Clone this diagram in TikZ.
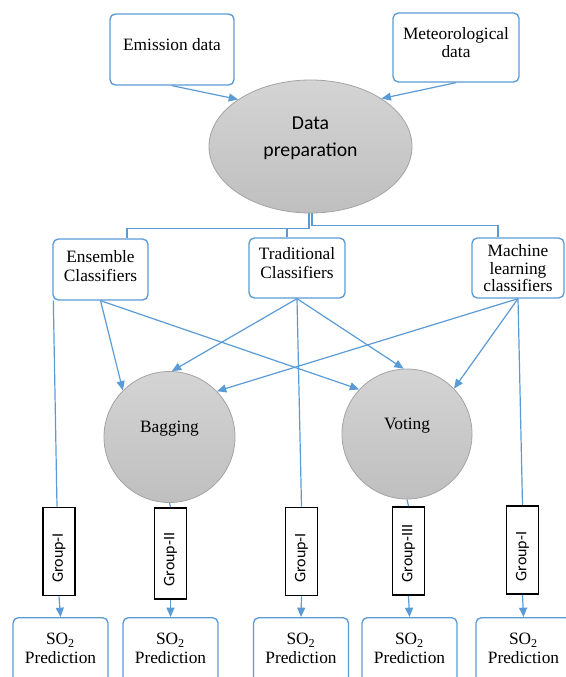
\documentclass[tikz,border=0pt]{standalone}
\usepackage{fontspec}
\setmainfont{Liberation Serif}
\newfontfamily\calibri{Carlito}
\usetikzlibrary{arrows.meta, calc, shapes.geometric}
\definecolor{lineblue}{HTML}{5B9BD5}
\definecolor{disctop}{HTML}{D4D4D4}
\definecolor{discbot}{HTML}{BFBFBF}
\definecolor{discedge}{HTML}{A3A3A3}

\tikzset{
    inbox/.style={draw=lineblue, line width=1pt, rounded corners=4pt, fill=white,
        align=center, inner sep=0pt, text depth=7pt,
        font=\fontsize{13}{14}\selectfont},
    outbox/.style={inbox, anchor=north, minimum width=71.25pt, minimum height=60pt,
        text depth=14pt},
    disc/.style={circle, draw=discedge, line width=0.6pt, top color=disctop,
        bottom color=discbot, inner sep=0pt, text depth=15pt,
        font=\fontsize{13}{14}\selectfont},
    grpbox/.style={draw=black, line width=1.3pt, fill=white, rotate=90,
        minimum height=24pt, text width=47pt, inner xsep=9.5pt, align=left,
        font=\calibri\fontsize{12}{13}\selectfont},
    link/.style={draw=lineblue, line width=0.9pt},
    flow/.style={link, -{Triangle[length=7pt,width=6pt]}},
}

\begin{document}
\begin{tikzpicture}[x=0.75pt, y=-0.75pt]
    \useasboundingbox (0,0) rectangle (566,677);
    \clip (0,0) rectangle (566,677);
    % inputs
    \node[inbox, minimum width=93pt, minimum height=53.25pt] (emis) at (172,49.5) {Emission data};
    \node[inbox, minimum width=94.5pt, minimum height=51.75pt, text depth=7.5pt] (met) at (456,47.5) {Meteorological\\data};
    \node[ellipse, draw=discedge, line width=0.6pt, top color=disctop, bottom color=discbot,
        minimum width=152.25pt, minimum height=99.75pt, inner sep=0pt, align=center,
        text depth=15pt, font=\calibri\fontsize{14.8}{20}\selectfont] (prep) at (310.5,146.5) {Data\\preparation};
    % classifiers
    \node[inbox, minimum width=71.25pt, minimum height=45.75pt, text depth=5pt] (ens) at (100.5,269.5) {Ensemble\\Classifiers};
    \node[inbox, minimum width=72pt, minimum height=45pt, text depth=7.5pt] (trad) at (297,268) {Traditional\\Classifiers};
    \node[inbox, minimum width=69pt, minimum height=45pt, text depth=0pt,
        font=\fontsize{13}{13.2}\selectfont] (mach) at (518,268) {Machine\\learning\\classifiers};
    % ensembles
    \node[disc, minimum size=98.25pt] (bag) at (169.5,437) {Bagging};
    \node[disc, minimum size=97.5pt] (vote) at (407,434) {Voting};
    % groups
    \node[grpbox] (grpA) at (59,551.5) {Group-I};
    \node[grpbox, text width=49.25pt] (grpB) at (170.5,553.5) {Group-II};
    \node[grpbox] (grpC) at (301.5,551.5) {Group-I};
    \node[grpbox] (grpD) at (408.5,551) {Group-III};
    \node[grpbox] (grpE) at (522.5,550) {Group-I};
    % predictions
    \node[outbox] (so1) at (60.5,617) {SO\textsubscript{2}\\Prediction};
    \node[outbox] (so2) at (170.5,617) {SO\textsubscript{2}\\Prediction};
    \node[outbox] (so3) at (301,617) {SO\textsubscript{2}\\Prediction};
    \node[outbox] (so4) at (409.5,617) {SO\textsubscript{2}\\Prediction};
    \node[outbox] (so5) at (523.5,617) {SO\textsubscript{2}\\Prediction};

    % data into preparation
    \draw[flow] (emis.south) -- (prep.147);
    \draw[flow] (met.south) -- (prep.34);
    % split to the classifiers
    \coordinate (busL) at ($(prep.south)+(-1.5,15)$);
    \coordinate (busR) at ($(prep.south)+(1.5,12)$);
    \draw[link] ($(prep.south)+(-1.5,0)$) |- (busL) -| ($(ens.north)+(26.5,0)$);
    \draw[link] ($(trad.north)+(-10,0)$) |- (busL);
    \draw[link] ($(prep.south)+(1.5,0)$) |- (busR) -| ($(mach.north)+(-20,0)$);
    % classifiers into bagging and voting
    \draw[flow] (ens.south) -- (bag.135);
    \draw[flow] (ens.south) -- (vote.137);
    \draw[flow] (trad.south) -- (bag.88);
    \draw[flow] (trad.south) -- (vote.93);
    \draw[flow] (mach.south) -- (bag.44);
    \draw[flow] (mach.south) -- (vote.44);
    % down to the groups
    \draw[link] ($(ens.south west)+(1,0)$) -- ($(grpA.east)+(-2,0)$);
    \draw[link] (bag.south) -- (grpB.east);
    \draw[link] (trad.south) -- (grpC.east);
    \draw[link] (vote.south) -- (grpD.east);
    \draw[link] (mach.south) -- (grpE.east);
    \foreach \g/\s in {grpA/so1, grpB/so2, grpC/so3, grpD/so4, grpE/so5}
        \draw[flow] (\g.west) -- (\s.north);
\end{tikzpicture}
\end{document}
